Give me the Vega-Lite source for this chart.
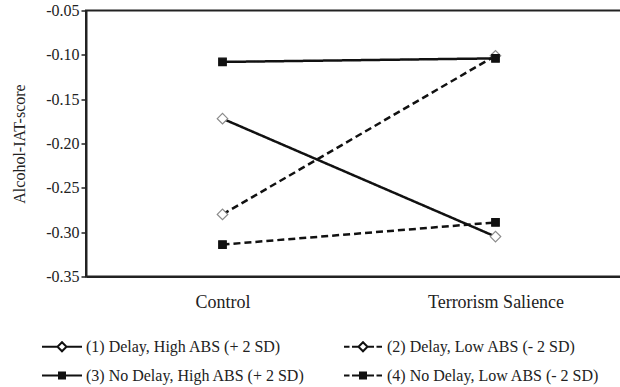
{
  "$schema": "https://vega.github.io/schema/vega-lite/v6.json",
  "width": 546,
  "height": 266,
  "autosize": {"type": "none"},
  "padding": {"left": 86, "top": 10.5, "right": -12, "bottom": 110.5},
  "config": {
    "font": "Liberation Serif",
    "background": "white",
    "view": {"stroke": "#222", "strokeWidth": 2},
    "axis": {
      "labelFont": "Liberation Serif",
      "titleFont": "Liberation Serif",
      "labelColor": "#222",
      "titleColor": "#222",
      "domainColor": "#222",
      "domainWidth": 2,
      "tickColor": "#222",
      "tickWidth": 1.5,
      "grid": false
    }
  },
  "data": {
    "values": [
      {"series": "(1) Delay, High ABS (+ 2 SD)", "condition": "Control", "score": -0.172},
      {"series": "(1) Delay, High ABS (+ 2 SD)", "condition": "Terrorism Salience", "score": -0.305},
      {"series": "(2) Delay, Low ABS (- 2 SD)", "condition": "Control", "score": -0.280},
      {"series": "(2) Delay, Low ABS (- 2 SD)", "condition": "Terrorism Salience", "score": -0.101},
      {"series": "(3) No Delay, High ABS (+ 2 SD)", "condition": "Control", "score": -0.108},
      {"series": "(3) No Delay, High ABS (+ 2 SD)", "condition": "Terrorism Salience", "score": -0.104},
      {"series": "(4) No Delay, Low ABS (- 2 SD)", "condition": "Control", "score": -0.314},
      {"series": "(4) No Delay, Low ABS (- 2 SD)", "condition": "Terrorism Salience", "score": -0.289}
    ]
  },
  "encoding": {
    "x": {
      "field": "condition",
      "type": "nominal",
      "scale": {"type": "point", "padding": 0.5, "domain": ["Control", "Terrorism Salience"]},
      "axis": {"title": null, "labelAngle": 0, "ticks": false, "labelPadding": 17, "labelFontSize": 18}
    },
    "y": {
      "field": "score",
      "type": "quantitative",
      "scale": {"domain": [-0.35, -0.05], "nice": false, "zero": false},
      "axis": {
        "title": "Alcohol-IAT-score",
        "values": [-0.35, -0.3, -0.25, -0.2, -0.15, -0.1, -0.05],
        "labelExpr": "(datum.value < 0 ? '-' : '') + format(abs(datum.value), '.2f')",
        "tickSize": 5,
        "labelPadding": 2,
        "labelFontSize": 16,
        "titleFontSize": 16,
        "titleFontWeight": "normal",
        "titlePadding": 18
      }
    }
  },
  "layer": [
    {
      "mark": {"type": "line", "color": "#111", "strokeWidth": 2.5},
      "encoding": {
        "strokeDash": {
          "field": "series",
          "type": "nominal",
          "scale": {
            "domain": ["(1) Delay, High ABS (+ 2 SD)", "(2) Delay, Low ABS (- 2 SD)", "(3) No Delay, High ABS (+ 2 SD)", "(4) No Delay, Low ABS (- 2 SD)"],
            "range": [[1, 0], [7, 4], [1, 0], [7, 4]]
          },
          "legend": null
        }
      }
    },
    {
      "mark": {"type": "point", "filled": true, "opacity": 1, "strokeWidth": 1.2, "size": 110},
      "encoding": {
        "shape": {
          "field": "series",
          "type": "nominal",
          "scale": {
            "domain": ["(1) Delay, High ABS (+ 2 SD)", "(2) Delay, Low ABS (- 2 SD)", "(3) No Delay, High ABS (+ 2 SD)", "(4) No Delay, Low ABS (- 2 SD)"],
            "range": ["M-1,0L0,-1L1,0L0,1Z", "M-1,0L0,-1L1,0L0,1Z", "M-0.72,-0.72H0.72V0.72H-0.72Z", "M-0.72,-0.72H0.72V0.72H-0.72Z"]
          },
          "legend": null
        },
        "fill": {
          "field": "series",
          "type": "nominal",
          "scale": {
            "domain": ["(1) Delay, High ABS (+ 2 SD)", "(2) Delay, Low ABS (- 2 SD)", "(3) No Delay, High ABS (+ 2 SD)", "(4) No Delay, Low ABS (- 2 SD)"],
            "range": ["#ffffff", "#ffffff", "#111111", "#111111"]
          },
          "legend": null
        },
        "stroke": {
          "field": "series",
          "type": "nominal",
          "scale": {
            "domain": ["(1) Delay, High ABS (+ 2 SD)", "(2) Delay, Low ABS (- 2 SD)", "(3) No Delay, High ABS (+ 2 SD)", "(4) No Delay, Low ABS (- 2 SD)"],
            "range": ["#8a8a8a", "#8a8a8a", "#111111", "#111111"]
          },
          "legend": null
        }
      }
    },
    {
      "transform": [{"filter": "false"}],
      "mark": {"type": "point", "filled": true, "opacity": 1, "stroke": "#111111", "strokeWidth": 2},
      "encoding": {
        "shape": {
          "field": "series",
          "type": "nominal",
          "scale": {
            "domain": ["(1) Delay, High ABS (+ 2 SD)", "(2) Delay, Low ABS (- 2 SD)", "(3) No Delay, High ABS (+ 2 SD)", "(4) No Delay, Low ABS (- 2 SD)"],
            "range": [
              "M-2,0H-0.45M0.45,0H2M-0.45,0L0,-0.45L0.45,0L0,0.45Z",
              "M-1.9,0H-1.35M-1.1,0H-0.45M0.45,0H1.1M1.35,0H1.9M-0.45,0L0,-0.45L0.45,0L0,0.45Z",
              "M-2,0H-0.3M0.3,0H2M-0.3,-0.3H0.3V0.3H-0.3Z",
              "M-1.9,0H-1.35M-1.1,0H-0.3M0.3,0H1.1M1.35,0H1.9M-0.3,-0.3H0.3V0.3H-0.3Z"
            ]
          },
          "legend": {
            "orient": "none", "legendX": -44, "legendY": 325, "columns": 2, "direction": "horizontal",
            "columnPadding": 35, "rowPadding": 9, "title": null,
            "symbolSize": 400, "symbolOffset": 9, "labelOffset": 13,
            "labelFontSize": 16, "labelColor": "#222", "labelFont": "Liberation Serif",
            "symbolStrokeWidth": 2, "labelLimit": 400
          }
        },
        "fill": {
          "field": "series",
          "type": "nominal",
          "scale": {
            "domain": ["(1) Delay, High ABS (+ 2 SD)", "(2) Delay, Low ABS (- 2 SD)", "(3) No Delay, High ABS (+ 2 SD)", "(4) No Delay, Low ABS (- 2 SD)"],
            "range": ["#ffffff", "#ffffff", "#111111", "#111111"]
          },
          "legend": {
            "orient": "none", "legendX": -44, "legendY": 325, "columns": 2, "direction": "horizontal",
            "columnPadding": 35, "rowPadding": 9, "title": null,
            "symbolSize": 400, "symbolOffset": 9, "labelOffset": 13,
            "labelFontSize": 16, "labelColor": "#222", "labelFont": "Liberation Serif",
            "symbolStrokeWidth": 2, "labelLimit": 400
          }
        }
      }
    }
  ],
  "resolve": {"scale": {"shape": "independent", "fill": "independent", "stroke": "independent"}}
}
